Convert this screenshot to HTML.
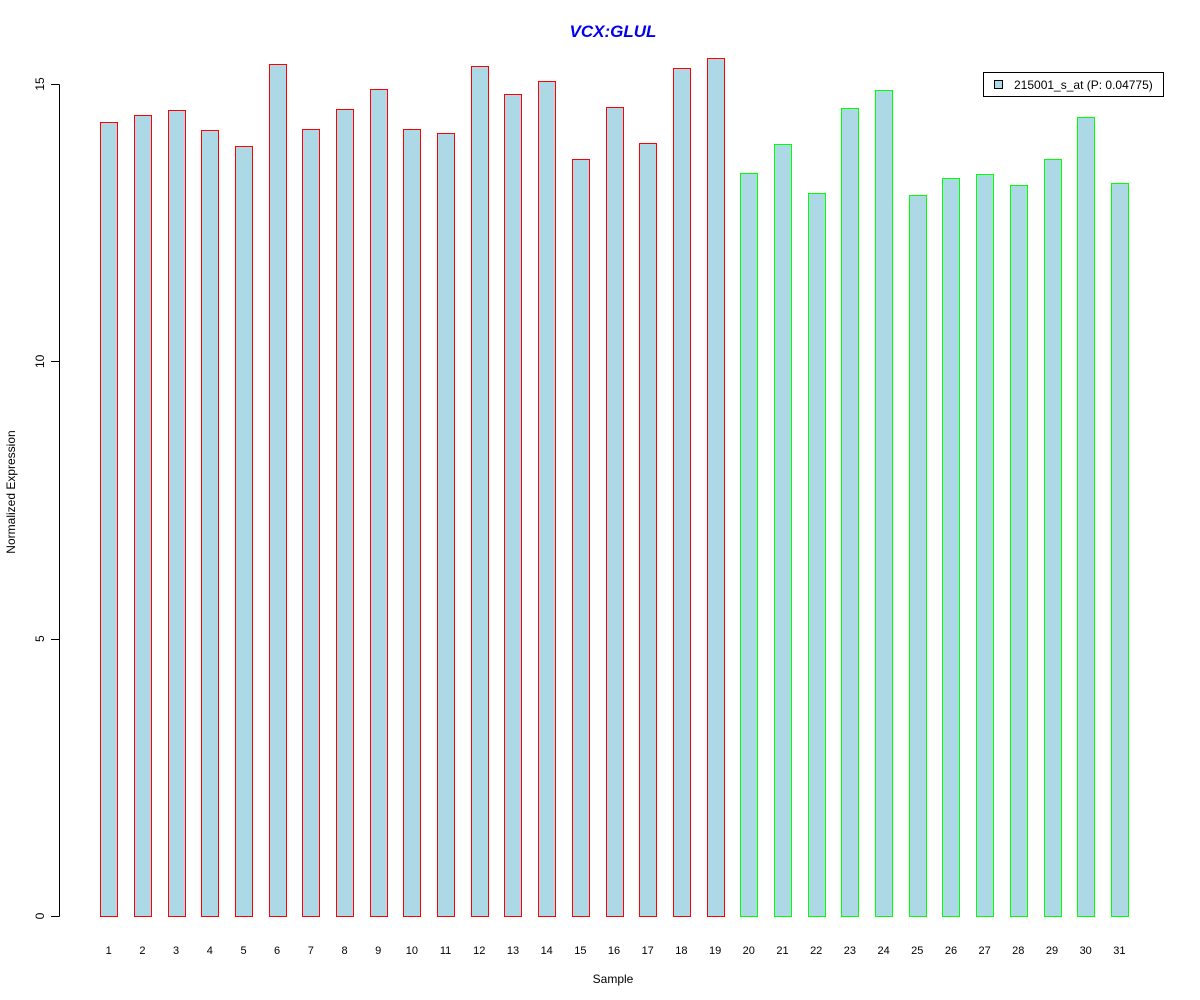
<!DOCTYPE html>
<html><head><meta charset="utf-8"><style>
html,body{margin:0;padding:0;background:#fff;}
svg{display:block;font-family:"Liberation Sans",Arial,sans-serif;}
#bars rect,#yaxis line{shape-rendering:crispEdges;}
</style></head><body>
<svg id="chart" width="1200" height="1000">
<text x="613" y="37" text-anchor="middle" font-size="17" font-weight="bold" font-style="italic" fill="#0000ee">VCX:GLUL</text>
<text x="613" y="983" text-anchor="middle" font-size="12">Sample</text>
<text transform="translate(15,492) rotate(-90)" text-anchor="middle" font-size="12">Normalized Expression</text>
<g id="yaxis"></g>
<g id="bars"></g>
<g id="xlabels"></g>
<g>
<rect x="983.5" y="72.5" width="180" height="24" fill="#fff" stroke="#000"/>
<rect x="994.5" y="80.5" width="8" height="8" fill="#add8e6" stroke="#000"/>
<text x="1014" y="89" font-size="12">215001_s_at (P: 0.04775)</text>
</g>
</svg>
<script>
const samples = ["1","2","3","4","5","6","7","8","9","10","11","12","13","14","15","16","17","18","19","20","21","22","23","24","25","26","27","28","29","30","31"];
const values = [14.31,14.44,14.53,14.17,13.88,15.36,14.19,14.55,14.91,14.19,14.12,15.32,14.82,15.05,13.65,14.58,13.94,15.29,15.47,13.39,13.92,13.03,14.57,14.89,13.00,13.30,13.38,13.18,13.65,14.40,13.21];
const groups = ["a","a","a","a","a","a","a","a","a","a","a","a","a","a","a","a","a","a","a","b","b","b","b","b","b","b","b","b","b","b","b"];
const yTicks = [0,5,10,15];
const NS="http://www.w3.org/2000/svg";
function y(v){return 916 - v*(916-84)/15;}
function xc(i){return 108.7 + i*33.69;}
const bw=17;
const bars=document.getElementById('bars');
values.forEach((v,i)=>{
  const r=document.createElementNS(NS,'rect');
  const x0=Math.round(xc(i)-bw/2)+0.5;
  const yt=Math.round(y(v))+0.5;
  r.setAttribute('x',x0);
  r.setAttribute('y',yt);
  r.setAttribute('width',bw);
  r.setAttribute('height',(916.5-yt));
  r.setAttribute('fill','#add8e6');
  r.setAttribute('stroke',groups[i]==='a'?'#ff0000':'#00ff00');
  
  
  bars.appendChild(r);
  const t=document.createElementNS(NS,'text');
  t.setAttribute('x',xc(i).toFixed(1));
  t.setAttribute('y',954);
  t.setAttribute('text-anchor','middle');
  t.setAttribute('font-size','11');
  t.textContent=samples[i];
  
  
  document.getElementById('xlabels').appendChild(t);
});
const ya=document.getElementById('yaxis');
const l=document.createElementNS(NS,'line');
l.setAttribute('x1',59.5);l.setAttribute('x2',59.5);
l.setAttribute('y1',916.5);l.setAttribute('y2',84.5);
l.setAttribute('stroke','#000');


ya.appendChild(l);
yTicks.forEach(v=>{
  const yy=Math.round(y(v))+0.5;
  const tk=document.createElementNS(NS,'line');
  tk.setAttribute('x1',51);tk.setAttribute('x2',59.5);
  tk.setAttribute('y1',yy);tk.setAttribute('y2',yy);
  tk.setAttribute('stroke','#000');
  
  
  ya.appendChild(tk);
  const t=document.createElementNS(NS,'text');
  t.setAttribute('transform','translate(44,'+y(v)+') rotate(-90)');
  t.setAttribute('text-anchor','middle');
  t.setAttribute('font-size','12');
  t.textContent=v;
  
  
  ya.appendChild(t);
});
</script>
</body></html>
